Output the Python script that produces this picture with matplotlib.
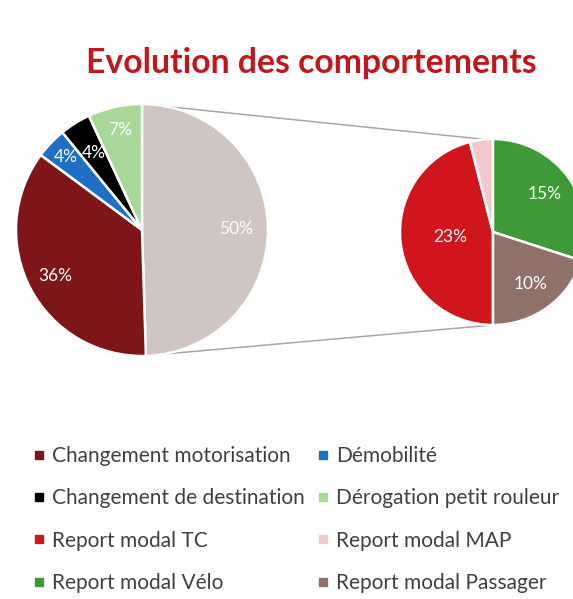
"""Pie-of-pie: evolution des comportements (left: main pie, right: split of the 50% slice)."""
import matplotlib
matplotlib.use("Agg")
import matplotlib.pyplot as plt
from matplotlib.lines import Line2D
import numpy as np

plt.rcParams.update({"font.family": ["Lato", "DejaVu Sans"]})

# main pie (clockwise from 12 o'clock): the grey slice is detailed on the right
main_labels = ["Reste (report modal)", "Changement motorisation", "Démobilité",
               "Changement de destination", "Dérogation petit rouleur"]
main_values = [50, 36, 4, 4, 7]
main_colors = ["#cfc5c3", "#7e1518", "#1f6fc4", "#000000", "#a8d898"]

# second pie (clockwise from 6 o'clock)
sub_labels = ["Report modal TC", "Report modal MAP", "Report modal Vélo", "Report modal Passager"]
sub_values = [23, 2, 15, 10]
sub_colors = ["#d0151d", "#f3c8cc", "#3e9a36", "#8f716a"]
sub_show = [True, False, True, True]

legend_order = ["Changement motorisation", "Démobilité",
                "Changement de destination", "Dérogation petit rouleur",
                "Report modal TC", "Report modal MAP",
                "Report modal Vélo", "Report modal Passager"]

W, H = 573, 599
fig = plt.figure(figsize=(W / 100, H / 100), dpi=100)
ax = fig.add_axes([0, 0, 1, 1])

c1, r1 = (142, 369), 126
c2, r2 = (493, 367), 93
wp = dict(edgecolor="white", linewidth=1.8)

w1, _ = ax.pie(main_values, colors=main_colors, startangle=90, counterclock=False,
               center=c1, radius=r1, wedgeprops=wp, frame=True)
w2, _ = ax.pie(sub_values, colors=sub_colors, startangle=-90, counterclock=False,
               center=c2, radius=r2, wedgeprops=wp, frame=True)
ax.set_xlim(0, W); ax.set_ylim(0, H); ax.axis("off")

def put_labels(wedges, values, center, radius, fracs, show):
    for w, v, f, s in zip(wedges, values, fracs, show):
        if not s:
            continue
        a = np.deg2rad((w.theta1 + w.theta2) / 2)
        ax.text(center[0] + f * radius * np.cos(a), center[1] + f * radius * np.sin(a),
                f"{v}%", color="white", fontsize=12.5, ha="center", va="center")

put_labels(w1, main_values, c1, r1, [0.75, 0.78, 0.84, 0.72, 0.81], [True] * 5)
put_labels(w2, sub_values, c2, r2, [0.46, 0.7, 0.69, 0.69], sub_show)

# connector lines between the grey slice and the second pie
for s in (1, -1):
    ax.add_line(Line2D([c1[0], c2[0] - 12 * (s > 0)], [c1[1] + s * r1, c2[1] + s * r2],
                       color="#a6a6a6", lw=1.1, zorder=0))

ax.text(311, H - 63, "Evolution des comportements", color="#c3161c", fontsize=24.3,
        fontweight="bold", ha="center", va="center")

col_of = dict(zip(main_labels + sub_labels, main_colors + sub_colors))
order = legend_order[0::2] + legend_order[1::2]
handles = [Line2D([], [], ls="", marker="s", markersize=5.5, color=col_of[l]) for l in order]
ax.legend(handles, order, ncol=2, loc="upper left", bbox_to_anchor=(33 / W, 1 - 446 / H),
          frameon=False, fontsize=15, handlelength=0.6, handletextpad=0.3,
          columnspacing=0.6, labelspacing=1.07, labelcolor="#404040", borderpad=0,
          borderaxespad=0, bbox_transform=fig.transFigure)

fig.savefig("out.png", dpi=100)
